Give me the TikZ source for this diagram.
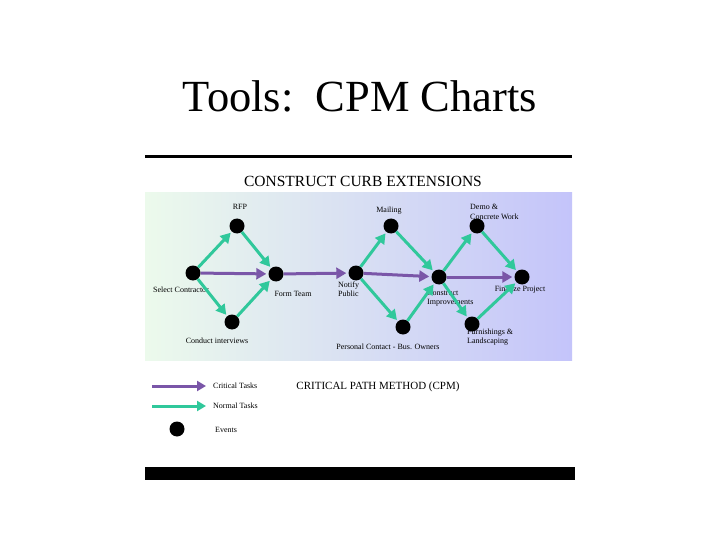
\documentclass[tikz,border=0pt]{standalone}
\usepackage{fontspec}
\setmainfont{Liberation Serif}
\usetikzlibrary{arrows.meta}
\definecolor{crit}{RGB}{122,86,168}
\definecolor{norm}{RGB}{48,200,155}
\definecolor{bgleft}{RGB}{236,250,236}
\definecolor{bgright}{RGB}{196,196,250}
\tikzset{
  ev/.style={circle,fill=black,minimum size=15pt,inner sep=0pt},
  lbl/.style={font=\fontsize{8}{9.5}\selectfont,inner sep=0pt,align=left},
  crittask/.style={draw=crit,line width=3pt,-{Triangle[length=10pt,width=11pt]},shorten >=2pt},
  normtask/.style={draw=norm,line width=3pt,-{Triangle[length=10pt,width=11pt]},shorten >=1.5pt}
}
\begin{document}
\begin{tikzpicture}[x=1pt,y=-1pt]
\useasboundingbox (0,0) rectangle (720,540);
\fill[white] (0,0) rectangle (720,540);
\node (title) at (360,96) {\fontsize{44.5}{48}\selectfont Tools:\ \ CPM Charts};
\fill[black] (145,155.5) rectangle (572,158.5);
\node (sub) at (363,181) {\fontsize{15.5}{17}\selectfont CONSTRUCT CURB EXTENSIONS};
\shade[left color=bgleft,right color=bgright] (145,193) rectangle (572,360);
% events
\node[ev] (sel) at (193,273) {};
\node[ev] (rfp) at (237,226) {};
\node[ev] (con) at (232,322) {};
\node[ev] (form) at (276,274) {};
\node[ev] (not) at (356,273) {};
\node[ev] (mail) at (391,226) {};
\node[ev] (pers) at (403,327) {};
\node[ev] (cons) at (439,277) {};
\node[ev] (demo) at (477,226) {};
\node[ev] (fin) at (522,277) {};
\node[ev] (furn) at (472,324) {};
% labels
\node[lbl] (lrfp) at (240,207) {RFP};
\node[lbl] (lsel) at (181,290) {Select Contractor};
\node[lbl] (lform) at (293,294) {Form Team};
\node[lbl] (lcon) at (217,341) {Conduct interviews};
\node[lbl,anchor=west] (lnot) at (338,289) {Notify\\Public};
\node[lbl] (lmail) at (389,211) {Mailing};
\node[lbl] (lpers) at (388,347) {Personal Contact - Bus. Owners};
\node[lbl,anchor=west] (lcons) at (427,298) {Construct\\Improvements};
\node[lbl,anchor=west] (ldemo) at (470,212) {Demo \&\\Concrete Work};
\node[lbl] (lfin) at (520,290) {Finalize Project};
\node[lbl,anchor=west] (lfurn) at (467,337) {Furnishings \&\\Landscaping};
% normal tasks
\draw[normtask] (sel) -- (rfp);
\draw[normtask] (rfp) -- (form);
\draw[normtask] (sel) -- (con);
\draw[normtask] (con) -- (form);
\draw[normtask] (not) -- (mail);
\draw[normtask] (mail) -- (cons);
\draw[normtask] (not) -- (pers);
\draw[normtask] (pers) -- (cons);
\draw[normtask] (cons) -- (demo);
\draw[normtask] (demo) -- (fin);
\draw[normtask] (cons) -- (furn);
\draw[normtask] (furn) -- (fin);
% critical tasks
\draw[crittask] (sel) -- (form);
\draw[crittask] (form) -- (not);
\draw[crittask] (not) -- (cons);
\draw[crittask] (cons) -- (fin);
% legend
\coordinate (c1a) at (152,386);
\coordinate (c1b) at (206,386);
\coordinate (c2a) at (152,406);
\coordinate (c2b) at (206,406);
\draw[draw=crit,line width=3pt,-{Triangle[length=9pt,width=10pt]}] (c1a) -- (c1b);
\draw[draw=norm,line width=3pt,-{Triangle[length=9pt,width=10pt]}] (c2a) -- (c2b);
\node[ev] (legev) at (177,429) {};
\node[lbl,anchor=west] (lc) at (213,386) {Critical Tasks};
\node[lbl,anchor=west] (ln) at (213,406) {Normal Tasks};
\node[lbl,anchor=west] (le) at (215,430) {Events};
\node (cpm) at (378,387) {\fontsize{11}{13}\selectfont CRITICAL PATH METHOD (CPM)};
\fill[black] (145,467) rectangle (575,480);
\end{tikzpicture}
\end{document}
